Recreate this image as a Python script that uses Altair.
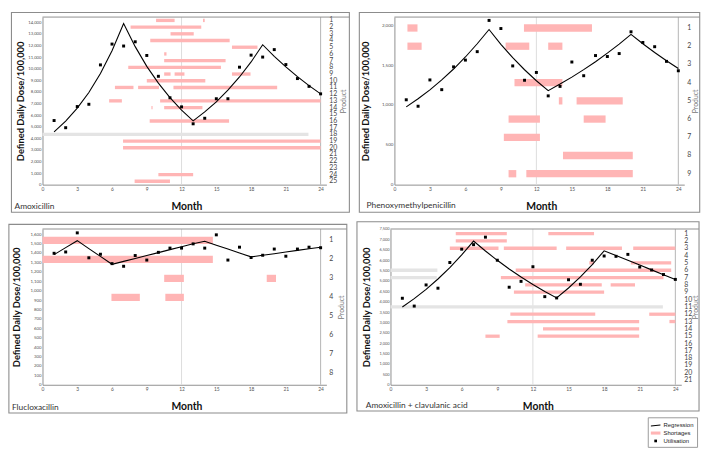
import altair as alt
import pandas as pd

FONT = "Lato"
MONTHS = list(range(1, 25))

# ---------------- data ----------------
amox_util = [5527, 4910, 6734, 6930, 10325, 12121, 11953, 12318, 11139, 9343, 7492, 6706,
             5247, 5724, 7407, 7407, 10129, 11167, 11000, 11644, 10354, 9147, 8474, 7828]
amox_reg = [4545, 5480, 6600, 7950, 9580, 11550, 13890, 11900, 10200, 8750, 7500, 6420,
            5500, 6270, 7145, 8145, 9285, 10580, 12065, 11065, 10150, 9310, 8540, 7830]
amox_short = [(1, 9.8, 11.4), (1, 13.85, 14.0), (2, 7.6, 13.7), (3, 11.05, 13.05),
              (4, 9.3, 16.15), (5, 16.35, 18.55), (6, 10.5, 10.7), (7, 10.5, 15.8),
              (8, 7.4, 15.4), (9, 10.5, 11.05), (9, 11.4, 12.25), (9, 16.35, 17.95),
              (10, 9.0, 14.05), (11, 6.25, 7.85), (11, 8.25, 10.05), (11, 11.3, 20.25),
              (13, 5.75, 6.85), (13, 10.15, 24.0), (14, 9.4, 9.5), (14, 10.5, 13.8),
              (16, 9.25, 16.1), (19, 6.95, 24.0), (20, 6.95, 24.0), (24, 10.0, 13.0),
              (25, 7.95, 11.0)]
amox_grey = [(18, 0.0, 22.95)]

pen_util = [1065, 984, 1314, 1192, 1478, 1563, 1669, 2061, 1959, 1490, 1310, 1408,
            1114, 1233, 1539, 1367, 1620, 1608, 1645, 1918, 1784, 1731, 1547, 1429]
pen_reg = [976, 1078, 1190, 1314, 1451, 1602, 1768, 1947, 1761, 1594, 1442, 1304,
           1180, 1262, 1349, 1443, 1543, 1650, 1764, 1886, 1768, 1658, 1554, 1457]
pen_short = [(1, 1.1, 1.95), (1, 10.95, 16.7), (2, 1.1, 2.3), (2, 9.4, 11.4), (2, 13.0, 14.2),
             (4, 10.15, 14.2), (5, 13.9, 14.2), (5, 15.4, 19.3), (6, 9.65, 12.3),
             (6, 16.0, 17.85), (7, 9.25, 12.3), (8, 14.25, 20.15), (9, 9.65, 10.3),
             (9, 11.15, 20.15)]
pen_grey = []

fluc_util = [1397, 1411, 1614, 1349, 1387, 1287, 1259, 1373, 1325, 1407, 1452, 1452,
             1497, 1452, 1593, 1325, 1462, 1352, 1376, 1442, 1366, 1442, 1462, 1456]
fluc_reg = [1383, 1457, 1531, 1447, 1364, 1280, 1311, 1342, 1373, 1404, 1436, 1467,
            1498, 1524, 1483, 1442, 1400, 1359, 1376, 1393, 1410, 1428, 1445, 1462]
fluc_short = [(1, 0.0, 14.7), (2, 0.0, 14.7), (3, 10.5, 12.2), (3, 19.35, 20.15),
              (4, 5.95, 8.4), (4, 10.6, 12.2)]
fluc_grey = []

coam_util = [4165, 3789, 4807, 4650, 5887, 6529, 6748, 7108, 5997, 4697, 4979, 5683,
             4243, 4180, 5057, 4838, 5997, 6200, 6184, 6278, 5668, 5527, 5308, 5073]
coam_reg = [3742, 4147, 4595, 5092, 5643, 6253, 6920, 6440, 5993, 5577, 5190, 4830,
            4495, 4180, 4659, 5193, 5788, 6451, 6221, 5991, 5762, 5532, 5303, 5073]
coam_short = [(1, 5.5, 9.8), (1, 13.3, 17.15), (2, 5.5, 9.8), (3, 5.0, 9.1), (3, 9.55, 14.0),
              (3, 14.8, 19.5), (3, 20.45, 24.0), (5, 16.75, 17.15), (5, 20.25, 23.65),
              (6, 10.55, 23.65), (7, 9.3, 23.0), (8, 11.35, 17.8), (8, 18.55, 20.6),
              (9, 10.4, 18.0), (12, 10.1, 17.25), (12, 21.8, 24.0), (13, 9.85, 20.95),
              (13, 23.5, 24.0), (14, 12.85, 20.95), (15, 8.0, 9.2), (15, 12.4, 20.95)]
coam_grey = [(6, 0.0, 3.95), (7, 0.0, 3.9), (11, 0.0, 22.95)]

LEG_DOMAIN = ["Regression", "Shortages", "Utilisation"]
LEG_COLORS = ["#000000", "#ffb5b5", "#000000"]
LEG_SHAPES = ["M-1,0.08L1,-0.12L1,0.06L-1,0.26Z",
              "M-1,-0.32H1V0.32H-1Z",
              "M-0.28,-0.28H0.28V0.28H-0.28Z"]

PINK = "#ffb5b5"
GREY_BAR = "#e4e4e4"
AXIS_GREY = "#8f8f8f"

panels = [
    dict(name="Amoxicillin", util=amox_util, reg=amox_reg, short=amox_short, grey=amox_grey,
         n=25, ymax=14450, yticks=list(range(0, 14001, 1000)), w=288, h=170,
         pi=0.5, po=0.25, box=(-31.5, 311.3, -4.6, 198),
         ytx=-22.7, lab=(-28.4, 191.4), mty=22.7, ptx=305.3, ylab=4.3),
    dict(name="Phenoxymethylpenicillin", util=pen_util, reg=pen_reg, short=pen_short, grey=pen_grey,
         n=9, ymax=2103, yticks=list(range(0, 2001, 500)), w=294, h=170,
         pi=0.6, po=0.4, box=(-35.6, 309.7, -4.6, 198),
         ytx=-29, lab=(-28.3, 190.7), mty=22.7, ptx=305.7, ylab=4.6),
    dict(name="Flucloxacillin", util=fluc_util, reg=fluc_reg, short=fluc_short, grey=fluc_grey,
         n=8, ymax=1655, yticks=list(range(0, 1601, 100)), w=288, h=158,
         pi=0.62, po=0.41, box=(-34.1, 308.7, -4.7, 186.7),
         ytx=-26.6, lab=(-31, 180.7), mty=21.7, ptx=303, ylab=4.4),
    dict(name="Amoxicillin + clavulanic acid", util=coam_util, reg=coam_reg, short=coam_short,
         grey=coam_grey, n=21, ymax=7500, yticks=list(range(0, 7501, 500)), w=295, h=158,
         pi=0.55, po=0.4, box=(-34, 313, -7.3, 184.7),
         ytx=-24, lab=(-25, 178.7), mty=22, ptx=309, ylab=4.0),
]


def make_panel(p):
    W, H = p["w"], p["h"]
    xs = alt.Scale(domain=[0, 24.5], nice=False)
    util_df = pd.DataFrame({"month": MONTHS, "ddd": p["util"], "series": "Utilisation"})
    reg_df = pd.DataFrame({"month": MONTHS, "ddd": p["reg"]})
    short_df = pd.DataFrame(p["short"], columns=["product", "start", "end"])
    grey_df = pd.DataFrame(p["grey"], columns=["product", "start", "end"])
    one = pd.DataFrame({"label": [p["name"]]})

    yprod = alt.Scale(domain=list(range(1, p["n"] + 1)), paddingInner=p["pi"], paddingOuter=p["po"])
    xaxis = alt.Axis(values=list(range(0, 25, 3)), title="Month", labelFontSize=5,
                     labelColor="#555555", labelPadding=1.5, ticks=False, grid=False,
                     domainColor=AXIS_GREY, titleFontSize=10.5, titleFontWeight="bold",
                     titleColor="#111111", titleX=W / 2 + 2, titleY=p["mty"],
                     titleBaseline="middle", labelFlush=False)
    paxis = alt.Axis(orient="right", title="Product", domain=False, ticks=False,
                     labelFontSize=7, labelColor="#444444", labelPadding=2.5,
                     titleFontSize=7, titleColor="#777777", titleFontWeight="normal",
                     titleAngle=270, titleX=p["ptx"] - W, titleY=H / 2,
                     titleBaseline="middle", labelAngle=0)
    yaxis = alt.Axis(values=p["yticks"], orient="left", title="Defined Daily Dose/100,000",
                     labelFontSize=p["ylab"], labelColor="#555555", labelPadding=1.5,
                     ticks=False, grid=False, domainColor=AXIS_GREY,
                     titleFontSize=9.5, titleFontWeight="bold", titleColor="#111111",
                     titleAngle=270, titleX=p["ytx"], titleY=H / 2,
                     titleBaseline="middle")

    rules = alt.Chart(pd.DataFrame({"m": [12, 24], "c": ["#dcdcdc", "#b4b4b4"]})).mark_rule(
        strokeWidth=1).encode(x=alt.X("m:Q", scale=xs, axis=xaxis),
                              color=alt.Color("c:N", scale=None))

    pink = alt.Chart(short_df).mark_bar(color=PINK).encode(
        x=alt.X("start:Q", scale=xs, axis=xaxis),
        x2="end:Q",
        y=alt.Y("product:O", scale=yprod, axis=paxis),
    )
    bar_layers = [pink]
    if len(grey_df):
        grey = alt.Chart(grey_df).mark_bar(color=GREY_BAR).encode(
            x=alt.X("start:Q", scale=xs, axis=xaxis), x2="end:Q",
            y=alt.Y("product:O", scale=yprod, axis=paxis))
        bar_layers = [grey, pink]
    bars = alt.layer(*bar_layers)

    yq = alt.Scale(domain=[0, p["ymax"]], nice=False)
    line = alt.Chart(reg_df).mark_line(color="black", strokeWidth=1.1).encode(
        x=alt.X("month:Q", scale=xs, axis=xaxis),
        y=alt.Y("ddd:Q", scale=yq, axis=yaxis))
    pts = alt.Chart(util_df).mark_point(filled=True, size=115, opacity=1).encode(
        x=alt.X("month:Q", scale=xs, axis=xaxis),
        y=alt.Y("ddd:Q", scale=yq, axis=yaxis),
        color=alt.Color("series:N", scale=alt.Scale(domain=LEG_DOMAIN, range=LEG_COLORS),
                        legend=alt.Legend(title=None)),
        shape=alt.Shape("series:N", scale=alt.Scale(domain=LEG_DOMAIN, range=LEG_SHAPES),
                        legend=alt.Legend(title=None)),
    )
    dots = alt.layer(line, pts)

    bx1, bx2, by1, by2 = p["box"]
    frame = alt.Chart(one).mark_rect(fillOpacity=0, stroke="#8c8c8c", strokeWidth=1.1).encode(
        x=alt.value(bx1), x2=alt.value(bx2), y=alt.value(by1), y2=alt.value(by2))
    label = alt.Chart(one).mark_text(align="left", baseline="middle", fontSize=8.5, font=FONT,
                                     color="#333333").encode(
        x=alt.value(p["lab"][0]), y=alt.value(p["lab"][1]), text="label:N")
    top = alt.Chart(one).mark_rule(color=AXIS_GREY, strokeWidth=1).encode(
        x=alt.value(0), x2=alt.value(bx2), y=alt.value(0))

    return alt.layer(rules, bars, dots, frame, label, top).resolve_scale(y="independent").properties(
        width=W, height=H)


p1, p2, p3, p4 = [make_panel(p) for p in panels]

chart = alt.vconcat(
    alt.hconcat(p1, p2, spacing=8),
    alt.hconcat(p3, p4, spacing=8),
    spacing=8,
).properties(padding=0).configure_view(strokeWidth=0).configure_axis(
    labelFont=FONT, titleFont=FONT
).configure_legend(
    orient="none", legendX=614, legendY=406, strokeColor="#9a9a9a", fillColor="white",
    padding=3, labelFont="Liberation Sans", labelFontSize=6, labelColor="#222222",
    symbolSize=95, rowPadding=0, labelOffset=3, symbolStrokeWidth=0
)

chart.save("out.html", embed_options={"renderer": "svg", "actions": False})
